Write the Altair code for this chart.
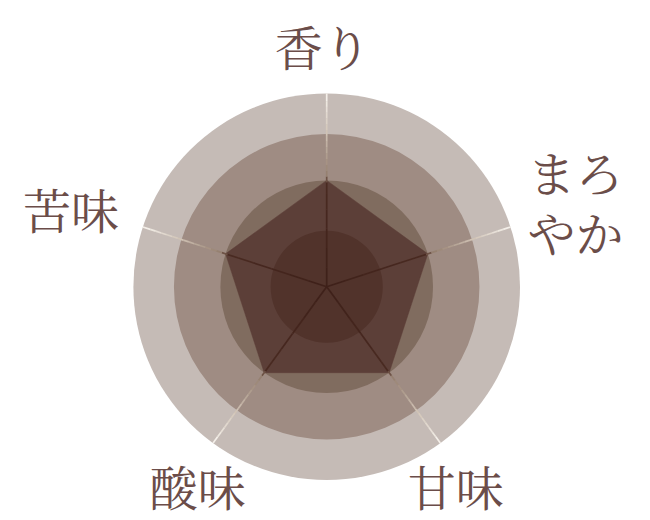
import math
import altair as alt
import pandas as pd

# ---- data ----
AXES = ["香り", "まろやか", "甘味", "酸味", "苦味"]
LABELS = ["香り", "まろ\nやか", "甘味", "酸味", "苦味"]
SCORES = [55, 55, 55, 55, 55]
RING_LEVELS = [100, 79, 55, 29]
RING_COLORS = ["#c5bbb6", "#9f8c83", "#806c5f", "#51332b"]
MAX_LEVEL = 100
SPOKE_STOPS = [0, 10, 20, 30, 40, 48, 54, 57, 60, 63, 66, 69, 72, 75, 78, 81,
               84, 87, 90, 93, 96, 100]

# ---- layout / style ----
W, H = 634, 512
CX, CY = 318.7, 278.7
R_PX = 193.3
K = R_PX / MAX_LEVEL
XS = alt.Scale(domain=[-CX / K, (W - CX) / K], nice=False, zero=False)
YS = alt.Scale(domain=[-(H - CY) / K, CY / K], nice=False, zero=False)
RS = alt.Scale(type="linear", domain=[0, MAX_LEVEL], range=[0, R_PX], zero=True)
LABEL_R = 125
LABEL_NUDGE = [(-4, 7), (19, -34), (-13, 10), (13, 10), (-26, 3)]
TEXT_COLOR = "#6b4d49"
POLY_COLOR = "#5c3f38"
FONT = "Noto Serif CJK JP, Noto Sans CJK JP, sans-serif"
ANGLE = "PI/2 - datum.idx*2*PI/5"

axes_df = pd.DataFrame({"idx": list(range(len(AXES))), "axis": AXES,
                        "label": LABELS, "score": SCORES})
rings_df = pd.DataFrame({"ring": list(range(len(RING_LEVELS))),
                         "level": RING_LEVELS, "color": RING_COLORS})
rows = []
for i in range(len(AXES)):
    for j in range(len(SPOKE_STOPS) - 1):
        rows.append({"idx": i, "r0": SPOKE_STOPS[j], "r1": SPOKE_STOPS[j + 1],
                     "mid": (SPOKE_STOPS[j] + SPOKE_STOPS[j + 1]) / 2})
spokes_df = pd.DataFrame(rows)


def ring(i):
    return alt.Chart(rings_df).transform_filter(alt.datum.ring == i).mark_arc(
        theta=0, theta2=2 * math.pi
    ).encode(
        x=alt.XDatum(0, type="quantitative", scale=XS, axis=None),
        y=alt.YDatum(0, type="quantitative", scale=YS, axis=None),
        radius=alt.Radius("level:Q", scale=RS),
        fill=alt.Fill("color:N", scale=None),
    )


poly = alt.Chart(axes_df).transform_calculate(a=ANGLE).transform_calculate(
    px="datum.score*cos(datum.a)", py="datum.score*sin(datum.a)"
).mark_line(interpolate="linear-closed", fill=POLY_COLOR, stroke=POLY_COLOR,
            strokeWidth=0.5).encode(
    x=alt.X("px:Q", scale=XS, axis=None),
    y=alt.Y("py:Q", scale=YS, axis=None),
    order="idx:Q",
)

spokes = alt.Chart(spokes_df).transform_calculate(a=ANGLE).transform_calculate(
    x0="datum.r0*cos(datum.a)", y0="datum.r0*sin(datum.a)",
    x1="datum.r1*cos(datum.a)", y1="datum.r1*sin(datum.a)",
).mark_rule(strokeWidth=1.7, strokeCap="butt").encode(
    x=alt.X("x0:Q", scale=XS, axis=None),
    y=alt.Y("y0:Q", scale=YS, axis=None),
    x2="x1:Q",
    y2="y1:Q",
    color=alt.Color("mid:Q", legend=None, scale=alt.Scale(
        domain=[0, 54, 57, 78, 100],
        range=["#3e2019", "#4a2b22", "#927c6c", "#cdbfb1", "#f8f4ef"])),
)

labels = []
for i in range(len(AXES)):
    dx, dy = LABEL_NUDGE[i]
    labels.append(
        alt.Chart(axes_df).transform_filter(alt.datum.idx == i)
        .transform_calculate(a=ANGLE)
        .transform_calculate(lx=f"{LABEL_R}*cos(datum.a)", ly=f"{LABEL_R}*sin(datum.a)")
        .mark_text(font=FONT, fontSize=48, color=TEXT_COLOR, align="center",
                   baseline="middle", lineBreak="\n", lineHeight=60, dx=dx, dy=dy)
        .encode(x=alt.X("lx:Q", scale=XS, axis=None),
                y=alt.Y("ly:Q", scale=YS, axis=None),
                text="label:N")
    )

chart = alt.layer(
    ring(0), ring(1), ring(2), poly, ring(3), spokes, *labels
).properties(
    width=W, height=H, padding=0, background="white",
    autosize=alt.AutoSizeParams(type="none"),
).configure_view(stroke=None)

chart.save("out.html", embed_options={"renderer": "svg", "actions": False})
